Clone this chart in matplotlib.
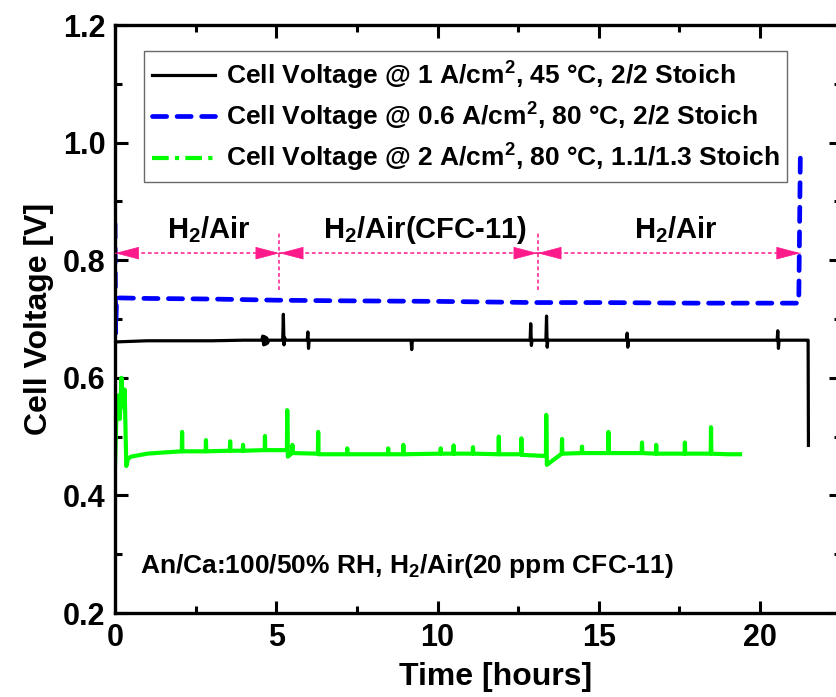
import numpy as np
import matplotlib
matplotlib.use('Agg')
import matplotlib.pyplot as plt
from matplotlib.lines import Line2D
from matplotlib.ticker import MultipleLocator

plt.rcParams['font.family'] = ['Liberation Sans', 'DejaVu Sans']
plt.rcParams['font.weight'] = 'bold'
plt.rcParams['axes.labelweight'] = 'bold'
plt.rcParams['mathtext.fontset'] = 'custom'
plt.rcParams['mathtext.rm'] = 'Liberation Sans:bold'
plt.rcParams['mathtext.bf'] = 'Liberation Sans:bold'
plt.rcParams['mathtext.default'] = 'bf'

# black: 1 A/cm2, 45 C
t_black = [0.0, 0.5, 1.0, 2.0, 3.0, 4.0, 4.55, 4.58, 4.61, 4.64, 4.67, 4.70, 4.73,
           4.76, 5.0, 5.2, 5.22, 5.24, 5.26, 5.28, 5.5, 5.96, 5.98, 6.0, 6.02,
           7.0, 8.0, 9.18, 9.2, 9.22, 10.0, 11.0, 12.0, 12.87, 12.89, 12.91,
           12.93, 13.0, 13.36, 13.38, 13.40, 13.42, 14.0, 15.0, 15.86, 15.88,
           15.90, 15.92, 17.0, 18.0, 19.0, 20.0, 20.53, 20.55, 20.57, 20.59,
           21.0, 21.47, 21.49, 21.5]
v_black = [0.661, 0.662, 0.663, 0.663, 0.663, 0.664, 0.664, 0.671, 0.656, 0.670,
           0.657, 0.668, 0.659, 0.664, 0.664, 0.664, 0.708, 0.656, 0.668, 0.664,
           0.664, 0.664, 0.678, 0.650, 0.664, 0.664, 0.664, 0.664, 0.648, 0.664,
           0.664, 0.664, 0.664, 0.664, 0.692, 0.655, 0.664, 0.664, 0.664, 0.705,
           0.652, 0.664, 0.664, 0.664, 0.664, 0.676, 0.652, 0.664, 0.664, 0.664,
           0.664, 0.664, 0.664, 0.680, 0.650, 0.664, 0.664, 0.664, 0.664, 0.485]

# blue: 0.6 A/cm2, 80 C
t_blue = [0.0, 0.02, 0.05, 1.0, 3.0, 5.0, 7.0, 10.0, 13.0, 15.0, 18.0, 21.2, 21.25]
v_blue = [0.862, 0.676, 0.736, 0.735, 0.734, 0.732, 0.731, 0.730, 0.728, 0.728,
          0.727, 0.727, 0.982]

# green: 2 A/cm2, 80 C
t_green = [0.0, 0.05, 0.1, 0.15, 0.2, 0.25, 0.3, 0.35, 0.4, 0.5, 1.0, 1.5,
           2.07, 2.08, 2.09, 2.81, 2.82, 2.83, 3.56, 3.57, 3.58, 3.96, 3.97, 3.98,
           4.64, 4.65, 4.66, 5.33, 5.34, 5.36, 5.49, 5.5, 5.51, 6.29, 6.3, 6.31,
           7.19, 7.2, 7.21, 8.46, 8.47, 8.48, 8.93, 8.94, 8.95, 10.09, 10.1, 10.11,
           10.49, 10.5, 10.51, 11.09, 11.1, 11.11, 11.89, 11.9, 11.91, 12.59, 12.6,
           12.61, 13.36, 13.37, 13.39, 13.85, 13.86, 13.87, 14.47, 14.48, 14.49,
           15.29, 15.3, 15.31, 16.33, 16.34, 16.35, 16.77, 16.78, 16.79, 17.66,
           17.67, 17.68, 18.47, 18.48, 18.49, 19.0, 19.38]
v_green = [0.450, 0.550, 0.570, 0.530, 0.600, 0.550, 0.580, 0.450, 0.462, 0.466,
           0.471, 0.473, 0.475, 0.508, 0.475, 0.475, 0.494, 0.475, 0.476, 0.492,
           0.476, 0.476, 0.486, 0.476, 0.477, 0.501, 0.477, 0.477, 0.545, 0.466,
           0.472, 0.486, 0.472, 0.471, 0.508, 0.470, 0.470, 0.480, 0.470, 0.470,
           0.480, 0.470, 0.470, 0.486, 0.470, 0.471, 0.480, 0.471, 0.471, 0.485,
           0.471, 0.471, 0.482, 0.471, 0.470, 0.500, 0.470, 0.470, 0.497, 0.469,
           0.467, 0.537, 0.452, 0.471, 0.496, 0.471, 0.472, 0.483, 0.472, 0.472,
           0.508, 0.472, 0.472, 0.490, 0.472, 0.471, 0.486, 0.471, 0.471, 0.490,
           0.471, 0.471, 0.516, 0.471, 0.470, 0.470]

labels = ['Cell Voltage @ 1 A/cm$^2$, 45 \u00b0C, 2/2 Stoich',
          'Cell Voltage @ 0.6 A/cm$^2$, 80 \u00b0C, 2/2 Stoich',
          'Cell Voltage @ 2 A/cm$^2$, 80 \u00b0C, 1.1/1.3 Stoich']

# gas-feed periods
period_edges = [0.0, 5.1, 13.1, 21.25]
period_names = ['H$_2$/Air', 'H$_2$/Air(CFC-11)', 'H$_2$/Air']
period_label_x = [2.9, 9.6, 17.4]
arrow_v = 0.812

pink = '#ff1a8c'

fig = plt.figure(figsize=(8.37, 6.97), dpi=100)
ax = fig.add_axes([0.1374, 0.1205, 0.867, 0.8436])

ax.plot(t_black, v_black, color='black', lw=2.3)
ax.plot(t_blue, v_blue, color='#0000ff', lw=3.4, dashes=(3, 2.2), dash_capstyle='round')
ax.plot(t_green, v_green, color='#00ff00', lw=3.0)

# arrows between periods
for a, b in zip(period_edges[:-1], period_edges[1:]):
    ax.plot([a, b], [arrow_v, arrow_v], color=pink, lw=1.1, dashes=(2.5, 1.8))
    for tip, tail in [(a, b), (b, a)]:
        d = 0.01 * np.sign(tail - tip)
        ax.annotate('', xy=(tip, arrow_v), xytext=(tip + d, arrow_v),
                    arrowprops=dict(arrowstyle='-|>,head_length=1.6,head_width=0.42',
                                    color=pink, lw=0.5, shrinkA=0, shrinkB=0,
                                    mutation_scale=10))
for e in period_edges[1:-1]:
    ax.plot([e, e], [0.749, 0.846], color=pink, lw=1.1, dashes=(2.5, 1.8))

for x, name in zip(period_label_x, period_names):
    ax.text(x, 0.838, name, ha='center', va='baseline', fontsize=21)

ax.text(0.78, 0.28, 'An/Ca:100/50% RH, H$_2$/Air(20 ppm CFC-11)', fontsize=19,
        va='center', ha='left')

handles = [Line2D([], [], color='black', lw=2.3),
           Line2D([], [], color='#0000ff', lw=3.4, dashes=(3, 2.2), dash_capstyle='round'),
           Line2D([], [], color='#00ff00', lw=3.0, dashes=(4, 1.5, 1, 1.5))]
leg = ax.legend(handles, labels, loc='upper left', bbox_to_anchor=(0.040, 0.955),
                fontsize=19, frameon=True, fancybox=False, edgecolor='#444444',
                handlelength=2.4, handletextpad=0.4, borderpad=0.3,
                borderaxespad=0.0, labelspacing=0.35)
leg.get_frame().set_linewidth(1.0)

ax.set_xlim(0, 22.5)
ax.set_ylim(0.2, 1.2)
ax.xaxis.set_major_locator(MultipleLocator(5))
ax.xaxis.set_minor_locator(MultipleLocator(2.5))
ax.yaxis.set_major_locator(MultipleLocator(0.2))
ax.yaxis.set_minor_locator(MultipleLocator(0.1))
ax.tick_params(which='both', direction='in', top=True, right=True, width=2.2,
               labelsize=22, pad=7)
ax.tick_params(which='major', length=9)
ax.tick_params(which='minor', length=5)
ax.yaxis.set_major_formatter(plt.FuncFormatter(lambda v, p: '%.1f' % v))
for s in ax.spines.values():
    s.set_linewidth(2.4)

ax.set_xlabel('Time [hours]', fontsize=23)
ax.xaxis.set_label_coords(0.524, -0.083)
ax.set_ylabel('Cell Voltage [V]', fontsize=23, labelpad=6)

fig.savefig('out.png', dpi=100)
